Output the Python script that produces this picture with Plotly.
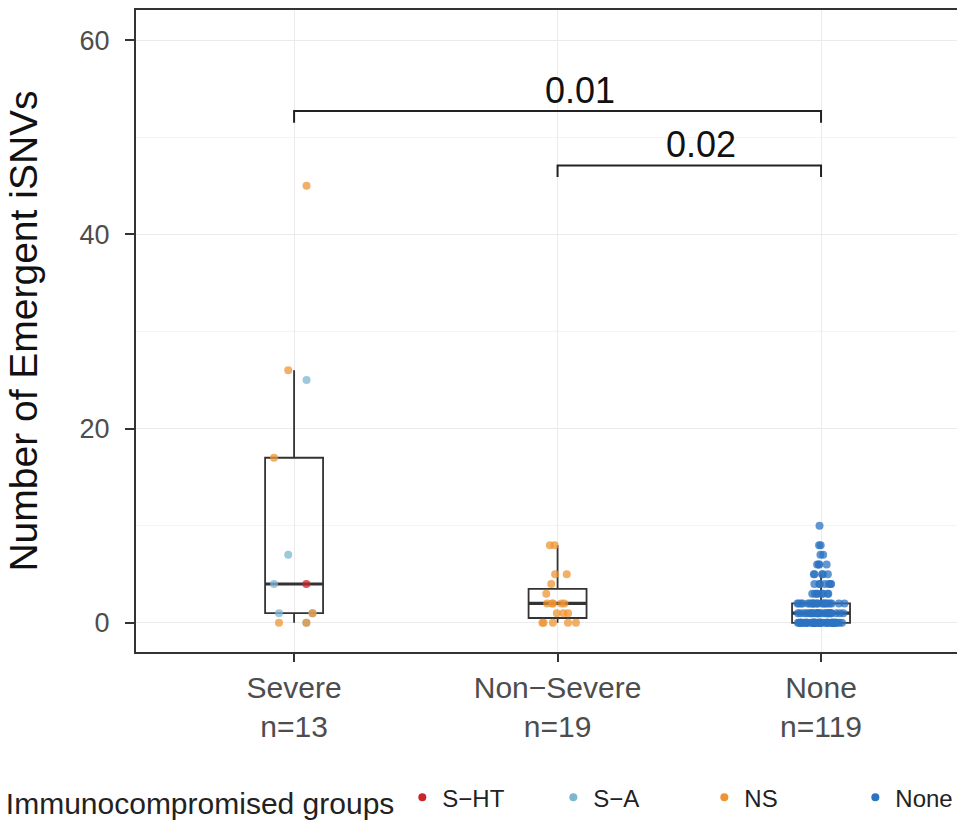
import numpy as np
import plotly.graph_objects as go

# ---------------- data ----------------
categories = ["Severe", "Non-Severe", "None"]
groups = ["S−HT", "S−A", "NS", "None"]
group_colors = ["#C8262B", "#7DB6D3", "#EE9433", "#2C73C2"]

severe_sht = [4]
severe_sa = [25, 7, 4, 1, 1, 0]
severe_ns = [45, 26, 17, 1, 0, 0]

nonsevere_ns = [8, 8, 5, 5, 4, 3, 2, 2, 2, 2, 2, 1, 1, 1, 0, 0, 0, 0, 0]

none_none = [10, 8, 8, 7, 7, 6, 6, 6, 6, 5, 5, 5, 5, 5,
             4, 4, 4, 4, 4, 4, 4, 3, 3, 3, 3, 3, 3, 3, 3,
             2, 2, 2, 2, 2, 2, 2, 2, 2, 2, 2, 2, 2, 2, 2, 2, 2, 2, 2, 2, 2,
             1, 1, 1, 1, 1, 1, 1, 1, 1, 1, 1, 1, 1, 1, 1, 1, 1, 1, 1, 1, 1, 1, 1, 1, 1,
             0, 0, 0, 0, 0, 0, 0, 0, 0, 0, 0, 0, 0, 0, 0, 0, 0, 0, 0, 0, 0, 0,
             0, 0, 0, 0, 0, 0, 0, 0, 0, 0, 0, 0, 0, 0, 0, 0, 0, 0, 0, 0, 0, 0]

# points per category: list of (group, values)
points = {
    "Severe": [("S−HT", severe_sht), ("S−A", severe_sa), ("NS", severe_ns)],
    "Non-Severe": [("NS", nonsevere_ns)],
    "None": [("None", none_none)],
}

comp_from = ["Severe", "Non-Severe"]
comp_to = ["None", "None"]
comp_p = ["0.01", "0.02"]
comp_y = [52.7, 47.1]

y_ticks = [0, 20, 40, 60]
y_title = "Number of Emergent iSNVs"
legend_title = "Immunocompromised groups"

# ---------------- figure ----------------
FONT = "Liberation Sans, Arial, Helvetica, sans-serif"
color_of = dict(zip(groups, group_colors))
label_dx = [22, 12]   # small horizontal nudges of the p-value labels (px)
fig = go.Figure()

tick_text = []
for cat in categories:
    vals = np.concatenate([np.array(v, dtype=float) for _, v in points[cat]])
    tick_text.append(f"{cat.replace('-', '−')}<br>n={len(vals)}")
    q1, med, q3 = np.percentile(vals, [25, 50, 75])
    iqr = q3 - q1
    upper = vals[vals <= q3 + 1.5 * iqr].max()
    lower = vals[vals >= q1 - 1.5 * iqr].min()
    fig.add_trace(go.Box(
        x=[cat], q1=[q1], median=[med], q3=[q3],
        lowerfence=[lower], upperfence=[upper],
        width=0.22, whiskerwidth=0, boxpoints=False,
        fillcolor="rgba(255,255,255,0)",
        line=dict(color="#333333", width=1.8),
        showlegend=False, hoverinfo="skip"))
    # thicker median (ggplot style)
    fig.add_trace(go.Box(
        x=[cat], q1=[med], median=[med], q3=[med],
        lowerfence=[med], upperfence=[med],
        width=0.22, whiskerwidth=0, boxpoints=False,
        fillcolor="rgba(255,255,255,0)",
        line=dict(color="#333333", width=3.2),
        showlegend=False, hoverinfo="skip"))

for cat in categories:
    for grp, vals in points[cat]:
        fig.add_trace(go.Box(
            x=[cat] * len(vals), y=vals,
            boxpoints="all", jitter=0.9, pointpos=0, width=0.2,
            fillcolor="rgba(0,0,0,0)",
            line=dict(width=0, color="rgba(0,0,0,0)"),
            marker=dict(color=color_of[grp], size=8, opacity=0.75),
            showlegend=False, name=grp))

# legend entries
for grp in groups:
    fig.add_trace(go.Scatter(
        x=[None], y=[None], mode="markers", name=grp,
        marker=dict(color=color_of[grp], size=8)))

# significance brackets
drop = 1.2
for a, b, p, yv, dx in zip(comp_from, comp_to, comp_p, comp_y, label_dx):
    fig.add_trace(go.Scatter(
        x=[a, a, b, b], y=[yv - drop, yv, yv, yv - drop],
        mode="lines", line=dict(color="#222222", width=2),
        showlegend=False, hoverinfo="skip"))
    xm = (categories.index(a) + categories.index(b)) / 2
    fig.add_annotation(x=xm, y=yv, text=p, showarrow=False,
                       yanchor="bottom", yshift=-2, xshift=dx,
                       font=dict(size=36, color="#111111", family=FONT))

fig.update_layout(
    width=957, height=821,
    margin=dict(l=136, r=0, t=10, b=169, autoexpand=False),
    paper_bgcolor="white", plot_bgcolor="white",
    font=dict(family=FONT, color="#222222"),
    boxmode="overlay",
    legend=dict(
        orientation="h", xref="container", yref="container",
        x=0.004, xanchor="left", y=0.026, yanchor="middle",
        title=dict(text=legend_title, side="left", font=dict(size=30, color="#222222")),
        font=dict(size=24, color="#222222"),
        itemwidth=30, entrywidth=106, bgcolor="rgba(0,0,0,0)"),
)

fig.update_xaxes(
    type="category", categoryorder="array", categoryarray=categories,
    range=[-0.6, 2.516],
    tickvals=categories, ticktext=tick_text,
    tickfont=dict(size=30, color="#4D4D4D"),
    showgrid=True, gridcolor="#EBEBEB", gridwidth=1.2,
    showline=True, linecolor="#333333", linewidth=2, mirror=True,
    ticks="outside", ticklen=8, tickcolor="#333333", tickwidth=1.5,
    zeroline=False)

fig.update_yaxes(
    range=[-3.0, 63.1],
    tickvals=y_ticks,
    tickfont=dict(size=27, color="#4D4D4D"),
    ticklabelstandoff=10,
    showgrid=True, gridcolor="#EBEBEB", gridwidth=1.2,
    minor=dict(tick0=0, dtick=10, showgrid=True, gridcolor="#F4F4F4", gridwidth=1),
    showline=True, linecolor="#333333", linewidth=2,
    ticks="outside", ticklen=9, tickcolor="#333333", tickwidth=1.5,
    zeroline=False,
    title=dict(text=y_title, font=dict(size=39, color="#111111"), standoff=30))

fig.write_html("out.html",
               config={"displayModeBar": False},
               post_script="document.body.style.margin='0';document.body.style.overflow='hidden';")
